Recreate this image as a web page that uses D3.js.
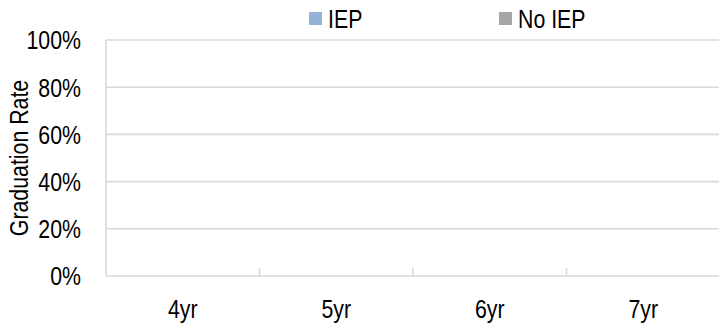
<!DOCTYPE html>
<html>
<head>
<meta charset="utf-8">
<script src="https://cdn.jsdelivr.net/npm/d3@7"></script>
<style>
  html, body { margin: 0; padding: 0; background: #ffffff; }
  svg { display: block; }
  text { font-family: "Liberation Sans", Arial, sans-serif; fill: #000; }
</style>
</head>
<body>
<script>
// ---- data ----
const categories = ["4yr", "5yr", "6yr", "7yr"];
const seriesNames = ["IEP", "No IEP"];
const seriesColors = ["#95b3d7", "#a6a6a6"];
const iepValues = [0, 0, 0, 0];
const noIepValues = [0, 0, 0, 0];
const yTicks = [0, 0.2, 0.4, 0.6, 0.8, 1.0];
const yTitle = "Graduation Rate";

const W = 719, H = 324;
const FS = 26, SX = 0.82; // narrow font emulation
const margin = { left: 106, top: 40 };

const svg = d3.select("body").append("svg")
  .attr("width", W).attr("height", H);

const x = d3.scaleBand().domain(categories).range([margin.left, 720]).paddingInner(0);
const xs = d3.scaleBand().domain(seriesNames).range([0, x.bandwidth()]).paddingInner(0.1).paddingOuter(0.6);
const y = d3.scaleLinear().domain([0, 1]).range([276, 40]);

// gridlines
svg.append("g").selectAll("line").data(yTicks).join("line")
  .attr("x1", margin.left).attr("x2", W)
  .attr("y1", d => y(d)).attr("y2", d => y(d))
  .attr("stroke", "#d9d9d9").attr("stroke-width", 1.6);

// left axis line
svg.append("line")
  .attr("x1", margin.left).attr("x2", margin.left)
  .attr("y1", y(1)).attr("y2", y(0))
  .attr("stroke", "#d9d9d9").attr("stroke-width", 1.6);

// bars
const rows = categories.map((c, i) => ({ cat: c, vals: [iepValues[i], noIepValues[i]] }));
svg.append("g").selectAll("g").data(rows).join("g")
  .attr("transform", d => `translate(${x(d.cat)},0)`)
  .selectAll("rect").data(d => d.vals.map((v, j) => ({ name: seriesNames[j], v, color: seriesColors[j] })))
  .join("rect")
  .attr("x", d => xs(d.name)).attr("width", xs.bandwidth())
  .attr("y", d => y(d.v)).attr("height", d => y(0) - y(d.v))
  .attr("fill", d => d.color);

// category boundary ticks (inside)
const boundaries = categories.slice(1).map(c => x(c));
svg.append("g").selectAll("line").data(boundaries).join("line")
  .attr("x1", d => d).attr("x2", d => d)
  .attr("y1", y(0) - 8).attr("y2", y(0))
  .attr("stroke", "#d9d9d9").attr("stroke-width", 1.6);

// y tick labels
svg.append("g").selectAll("text").data(yTicks).join("text")
  .attr("transform", d => `translate(81,${y(d)}) scale(${SX},1)`)
  .attr("dy", "0.36em")
  .attr("text-anchor", "end").attr("font-size", FS)
  .text(d => d3.format(".0%")(d));

// x labels
svg.append("g").selectAll("text").data(categories).join("text")
  .attr("transform", d => `translate(${x(d) + x.bandwidth() / 2},318) scale(${SX},1)`)
  .attr("text-anchor", "middle").attr("font-size", FS)
  .text(d => d);

// y title
svg.append("text")
  .attr("transform", `translate(28,158) rotate(-90) scale(${SX},1)`)
  .attr("text-anchor", "middle").attr("font-size", FS)
  .text(yTitle);

// legend
const legendX = [309, 499];
const lg = svg.append("g").selectAll("g").data(seriesNames).join("g")
  .attr("transform", (d, i) => `translate(${legendX[i]},0)`);
lg.append("rect").attr("x", 0).attr("y", 12).attr("width", 13).attr("height", 13)
  .attr("fill", (d, i) => seriesColors[i]);
lg.append("text").attr("transform", `translate(19,28) scale(${SX},1)`)
  .attr("font-size", FS).text(d => d);
</script>
</body>
</html>
